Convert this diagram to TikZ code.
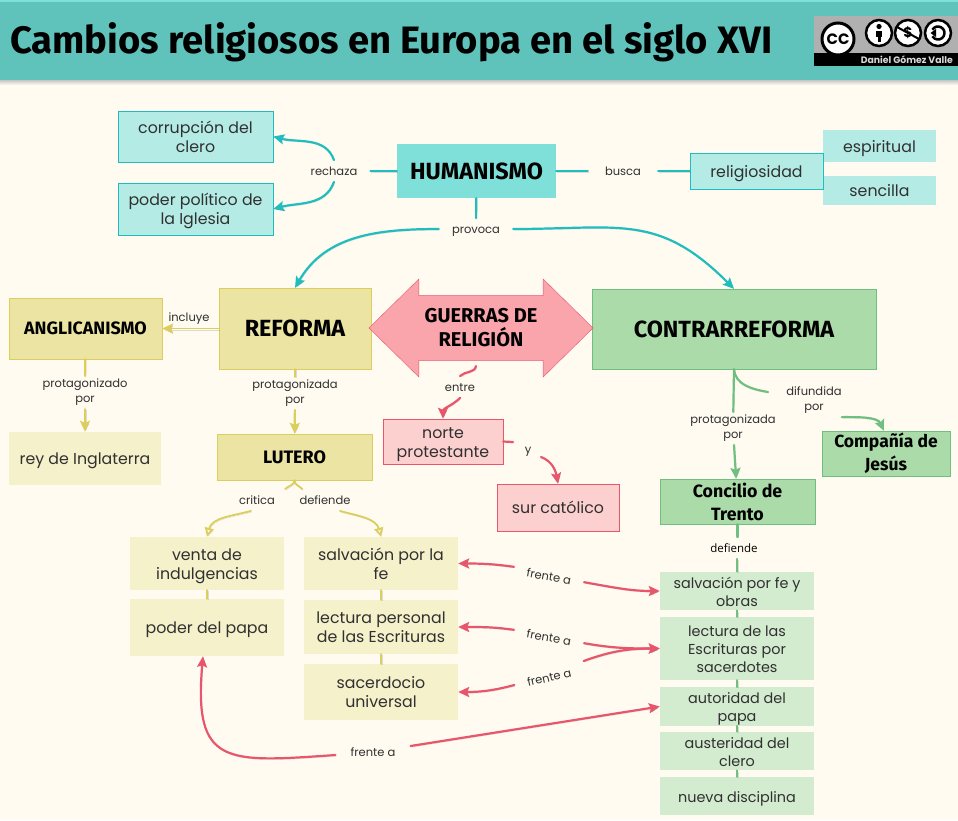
\documentclass[tikz,border=0pt]{standalone}
\usepackage{fontspec}
\usepackage{xcolor}
\usepackage{tikz}
\usetikzlibrary{shapes.arrows,arrows.meta}
\setmainfont{Poppins}
\newfontfamily\headfont{Fira Sans}
\newfontfamily\plainfont{Open Sans}
\newcommand{\lowerlines}{\rule{0pt}{16.5pt}}
\definecolor{paper}{HTML}{FFFBF0}
\definecolor{tealband}{HTML}{5FC3BC}
\definecolor{tealline}{HTML}{1FBDBD}
\definecolor{tealdark}{HTML}{7FE0D9}
\definecolor{teallight}{HTML}{B4ECE5}
\definecolor{yelline}{HTML}{DBCE5E}
\definecolor{yeldark}{HTML}{EBE4A2}
\definecolor{yellight}{HTML}{F5F1CB}
\definecolor{greenline}{HTML}{6FBF80}
\definecolor{greendark}{HTML}{ABDBA9}
\definecolor{greenlight}{HTML}{D3ECCF}
\definecolor{redline}{HTML}{E8566C}
\definecolor{reddark}{HTML}{FAA5AB}
\definecolor{redlight}{HTML}{FDD0D0}
\definecolor{inkgray}{HTML}{303030}
\tikzset{
  box/.style={align=center,inner sep=0pt,font=\fontsize{15.8}{19}\selectfont,text=inkgray,
    execute at begin node={\rule[-4pt]{0pt}{20.5pt}},execute at end node={\rule[-4pt]{0pt}{4pt}}},
  greenbox/.style={box,fill=greenlight,font=\fontsize{14.4}{18}\selectfont,minimum width=154pt},
  head/.style={align=center,inner sep=0pt,font=\headfont\bfseries\fontsize{23.4}{26}\selectfont,text=black},
  word/.style={font=\fontsize{11.5}{15}\selectfont,align=center,text=inkgray,inner ysep=3pt,inner xsep=13pt,
    execute at begin node={\rule[-3pt]{0pt}{15.5pt}},execute at end node={\rule[-3pt]{0pt}{3pt}}},
  link/.style={line width=2.2pt,line cap=round,preaction={draw=black,opacity=.13,transform canvas={shift={(.8pt,-1.2pt)}}}},
  tip/.style={link,-{Stealth[length=11pt,width=10pt,inset=2pt]}},
  hollow/.style={link,line width=1.8pt,-{Triangle[open,length=9pt,width=9pt]}},
}
\begin{document}
\begin{tikzpicture}[x=1pt, y=-1pt]
    \useasboundingbox (0,0) rectangle (958,820);
    \fill[paper] (0,0) rectangle (958,820);

    % band
    \shade[top color=gray!45,bottom color=paper] (0,80) rectangle (958,85);
    \fill[tealband] (0,0) rectangle (958,80);
    \fill[tealdark] (0,0) rectangle (958,1.5);
    \node[anchor=west,inner sep=0pt,font=\headfont\bfseries\fontsize{38.2}{38}\selectfont] (title) at (10,42) {Cambios religiosos en Europa en el siglo XVI};

    % licence badge
    \fill[gray!62] (814,16) rectangle (958,53);
    \fill[black] (814,53) rectangle (958,66);
    \node[anchor=east,inner sep=0pt,text=white!85!black,font=\bfseries\fontsize{9.3}{10}\selectfont] (owner) at (953,60) {Daniel Gómez Valle};
    \node[circle,draw=black,line width=3pt,fill=white,minimum size=32pt,inner sep=0pt,font=\bfseries\fontsize{15}{15}\selectfont] (cc) at (838,39) {CC};
    \node[circle,draw=black,line width=2.5pt,fill=white,minimum size=26pt,inner sep=0pt] (by) at (879,33) {};
    \fill[black] (879,26.5) circle (2.6pt);
    \fill[black] (876,30.5) rectangle (882,36.5);
    \fill[black] (877.5,36) rectangle (880.5,42);
    \node[circle,draw=black,line width=2.5pt,fill=white,minimum size=26pt,inner sep=0pt,font=\bfseries\fontsize{14}{14}\selectfont] (nc) at (908,33) {\$};
    \draw[line width=2pt] (897,27) -- (919,39);
    \node[circle,draw=black,line width=2.5pt,fill=white,minimum size=26pt,inner sep=0pt] (sa) at (938,33) {};
    \draw[line width=2.5pt] (sa.center) ++(150:6.5pt) arc (150:-150:6.5pt);
    \fill[black] (930.5,33) -- (936,29) -- (936,37) -- cycle;

    % humanismo
    \node[head,fill=tealdark,minimum width=159pt,minimum height=54pt] (humanismo) at (476.5,171) {HUMANISMO};
    \node[box,fill=teallight,draw=tealline,minimum width=155pt,minimum height=51pt] (corrupcion) at (195.5,136.5) {\lowerlines corrupción del\\clero};
    \node[box,fill=teallight,draw=tealline,minimum width=155pt,minimum height=52pt] (poderpolitico) at (195.5,209) {\lowerlines poder político de\\la Iglesia};
    \node[box,fill=teallight,minimum width=113pt,minimum height=32pt] (espiritual) at (879.5,146) {espiritual};
    \node[box,fill=teallight,minimum width=113pt,minimum height=29pt] (sencilla) at (879.5,190.5) {sencilla};
    \node[box,fill=teallight,draw=tealline,minimum width=133pt,minimum height=36pt] (religiosidad) at (756.5,171) {religiosidad};
    \node[word] (rechaza) at (334,171) {rechaza};
    \node[word,inner xsep=17pt] (busca) at (623,171) {busca};
    \node[word] (provoca) at (476,229) {provoca};
    \draw[link,tealline] (humanismo) -- (rechaza);
    \draw[tip,tealline] (rechaza.north) to[out=110,in=-15] (corrupcion.east);
    \draw[tip,tealline] (rechaza.south) to[out=-110,in=15] (poderpolitico.east);
    \draw[link,tealline] (humanismo) -- (busca);
    \draw[link,tealline] (busca) -- (religiosidad);
    \draw[link,tealline] (humanismo) -- (provoca);

    % three movements
    \node[head,fill=yeldark,draw=yelline,minimum width=152pt,minimum height=81pt] (reforma) at (295,328.5) {REFORMA};
    \node[head,fill=greendark,draw=greenline,minimum width=284pt,minimum height=80pt] (contrarreforma) at (734,329) {CONTRARREFORMA};
    \node[double arrow,double arrow head extend=10pt,double arrow tip angle=89,minimum height=224pt,minimum width=98pt,inner sep=0pt,align=center,fill=reddark,draw=redline,font=\headfont\bfseries\fontsize{20}{24}\selectfont,text=black] (guerras) at (481,328) {GUERRAS DE\\RELIGIÓN};
    \draw[tip,tealline] (provoca.west) to[out=180,in=60] (reforma.north);
    \draw[tip,tealline] (provoca.east) to[out=0,in=135,looseness=1.2] (contrarreforma.north);

    % anglicanismo
    \node[head,fill=yeldark,draw=yelline,font=\headfont\bfseries\fontsize{17.9}{21}\selectfont,minimum width=153pt,minimum height=61pt] (anglicanismo) at (85.5,328.5) {ANGLICANISMO};
    \node[box,fill=yellight,minimum width=152pt,minimum height=53pt] (rey) at (85,458.5) {rey de Inglaterra};
    \node[word,inner xsep=0pt] (incluye) at (189,317) {incluye};
    \node[word,inner xsep=0pt] (protagonizado) at (85,392.5) {protagonizado\\por};
    \draw[tip,yelline,line width=1.5pt] (reforma) -- (anglicanismo);
    \draw[link,yelline] (anglicanismo) -- (protagonizado);
    \draw[tip,yelline] (protagonizado) -- (rey);

    % lutero
    \node[head,fill=yeldark,draw=yelline,font=\headfont\bfseries\fontsize{18}{22}\selectfont,minimum width=155pt,minimum height=46pt] (lutero) at (294.5,457) {LUTERO};
    \node[word,inner xsep=0pt] (protagonizada) at (295,393.5) {protagonizada\\por};
    \draw[link,yelline] (reforma) -- (protagonizada);
    \draw[tip,yelline] (protagonizada) -- (lutero);
    \node[box,fill=yellight,minimum width=154pt,minimum height=53pt] (venta) at (207,563.5) {\lowerlines venta de\\indulgencias};
    \node[box,fill=yellight,minimum width=154pt,minimum height=57pt] (papa) at (207,627.5) {poder del papa};
    \node[box,fill=yellight,minimum width=154pt,minimum height=53pt] (salvacion) at (381,563.5) {\lowerlines salvación por la\\fe};
    \node[box,fill=yellight,minimum width=154pt,minimum height=54pt] (lectura) at (381,627) {\lowerlines lectura personal\\de las Escrituras};
    \node[box,fill=yellight,minimum width=154pt,minimum height=56pt] (sacerdocio) at (381,692) {\lowerlines sacerdocio\\universal};
    \node[word,inner xsep=0pt] (critica) at (257,500) {critica};
    \node[word,inner xsep=0pt] (defiende) at (325,500) {defiende};
    \draw[hollow,yelline] ([xshift=-6pt]critica.south) to[out=195,in=75] (venta.north);
    \draw[hollow,yelline] ([xshift=15pt]defiende.south) to[out=-15,in=105] (salvacion.north);
    \draw[link,yelline,line width=1.8pt] ([xshift=10pt]critica.north east) to[out=45,in=-90] (lutero.south);
    \draw[link,yelline,line width=1.8pt] ([xshift=3pt]defiende.north west) to[out=135,in=-90] (lutero.south);
    \draw[link,yelline] (venta) -- (papa);
    \draw[link,yelline] (salvacion) -- (lectura);
    \draw[link,yelline] (lectura) -- (sacerdocio);

    % guerras
    \node[box,fill=redlight,draw=redline,minimum width=120pt,minimum height=45pt] (norte) at (443,441.5) {\lowerlines norte\\protestante};
    \node[box,fill=redlight,draw=redline,minimum width=122pt,minimum height=47pt] (sur) at (558,507.5) {sur católico};
    \node[word,inner xsep=0pt] (entre) at (460,387) {entre};
    \node[word,inner xsep=13pt] (yy) at (528,449) {y};
    \coordinate (guerrasfoot) at (476,366);
    \coordinate (yin) at (513,442);
    \coordinate (yout) at (541,457);
    \draw[link,redline] (guerrasfoot) to[out=-100,in=45] (entre.north);
    \draw[tip,redline] (entre.south) to[out=-135,in=90] (norte.north);
    \draw[link,redline] (norte.east) -- (yin);
    \draw[tip,redline] (yout) to[out=-20,in=100] (sur.north);

    % contrarreforma
    \node[head,fill=greendark,draw=greenline,font=\headfont\bfseries\fontsize{17.5}{23}\selectfont,minimum width=128pt,minimum height=45pt] (compania) at (886,453.5) {Compañía de\\Jesús};
    \node[head,fill=greendark,draw=greenline,font=\headfont\bfseries\fontsize{17.8}{23}\selectfont,minimum width=155pt,minimum height=45pt] (concilio) at (737.5,501.5) {Concilio de\\Trento};
    \node[word,inner xsep=0pt] (protagonizadab) at (733,428.5) {protagonizada\\por};
    \node[word,inner xsep=0pt] (difundida) at (814,400.5) {difundida\\por};
    \node[word,inner xsep=0pt,font=\plainfont\fontsize{11.5}{14.5}\selectfont,text=black] (defiendeb) at (734,548) {defiende};
    \coordinate (difundidain) at (768,392);
    \draw[link,greenline] (contrarreforma.south) -- (protagonizadab);
    \draw[tip,greenline] (protagonizadab) -- (concilio);
    \draw[link,greenline] (contrarreforma.south) to[out=-85,in=170] (difundidain);
    \draw[tip,greenline] (difundida.south east) to[out=0,in=115,looseness=.9] ([xshift=-2pt]compania.north);
    \draw[link,greenline] (concilio.south) -- (concilio.south |- defiendeb.north);
    \node[greenbox,minimum height=38pt] (salvacionb) at (737,591) {\lowerlines salvación por fe y\\obras};
    \node[greenbox,minimum height=63pt] (lecturab) at (737,648.5) {\lowerlines lectura de las\\Escrituras por\\sacerdotes};
    \node[greenbox,minimum height=37pt] (autoridad) at (737,706.5) {\lowerlines autoridad del\\papa};
    \node[greenbox,minimum height=38pt] (austeridad) at (737,751) {\lowerlines austeridad del\\clero};
    \node[greenbox,minimum height=38pt] (nueva) at (737,796) {nueva disciplina};
    \draw[link,greenline] (salvacionb.north |- defiendeb.south) -- (salvacionb.north);
    \draw[link,greenline] (salvacionb) -- (lecturab);
    \draw[link,greenline] (lecturab) -- (autoridad);
    \draw[link,greenline] (autoridad) -- (austeridad);
    \draw[link,greenline] (austeridad) -- (nueva);

    % frente a
    \node[word,rotate=-10] (frenteuno) at (549,576) {frente a};
    \node[word,rotate=-10] (frentedos) at (549,637) {frente a};
    \node[word,rotate=13] (frentetres) at (549,677) {frente a};
    \node[word,inner xsep=15pt] (frentecuatro) at (373,752) {frente a};
    \draw[tip,redline] ([yshift=3pt]frenteuno.west) to[out=172,in=0] (salvacion.east);
    \draw[tip,redline] (frenteuno.east) to[out=-10,in=180] (salvacionb.west);
    \draw[tip,redline] ([yshift=1pt]frentedos.west) to[out=172,in=0] (lectura.east);
    \draw[tip,redline] (frentedos.east) to[out=-10,in=180] (lecturab.west);
    \draw[tip,redline] (frentetres.west) to[out=195,in=0] (sacerdocio.east);
    \draw[tip,redline] ([yshift=8pt]frentetres.east) to[out=20,in=180] (lecturab.west);
    \draw[tip,redline] ([yshift=-3pt]frentecuatro.west) to[out=184,in=-95,looseness=1.7] ([xshift=-4pt]papa.south);
    \draw[tip,redline] ([yshift=6pt]frentecuatro.east) -- (autoridad.west);
\end{tikzpicture}
\end{document}
